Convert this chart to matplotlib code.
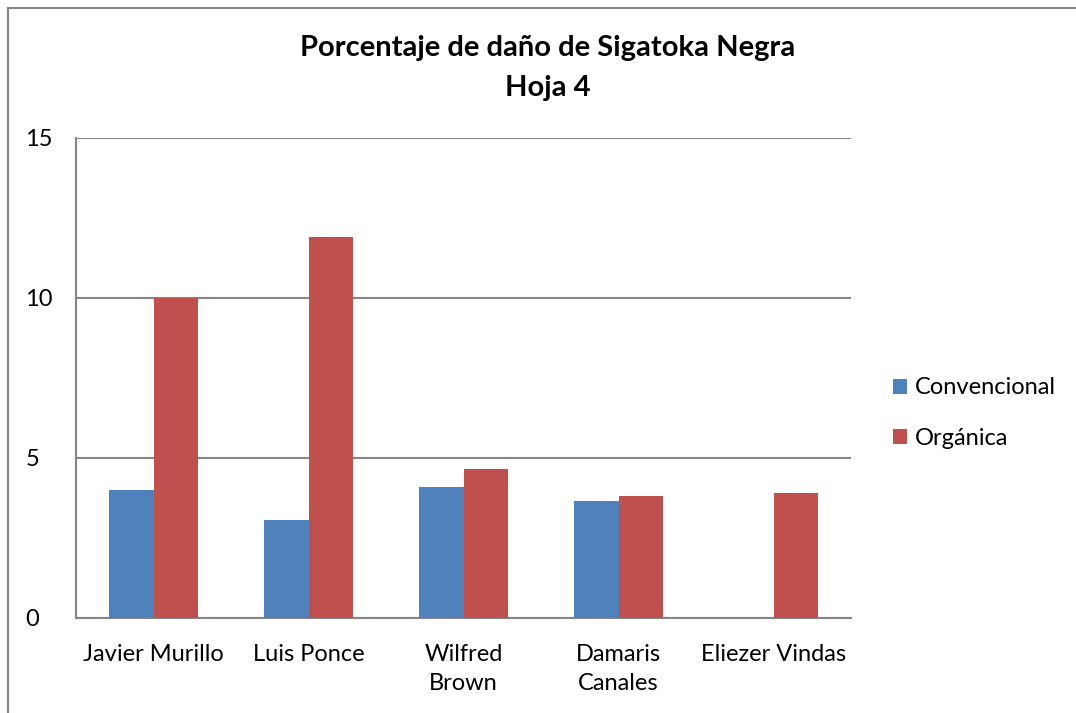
import numpy as np
import matplotlib.pyplot as plt
from matplotlib.lines import Line2D

categories = ['Javier Murillo', 'Luis Ponce', 'Wilfred\nBrown', 'Damaris\nCanales', 'Eliezer Vindas']
convencional = [4.0, 3.05, 4.07, 3.64, 0]
organica = [10.0, 11.9, 4.65, 3.8, 3.9]
yticks = [0, 5, 10, 15]

plt.rcParams['font.family'] = ['Lato', 'DejaVu Sans']

W, H = 1076, 713
fig = plt.figure(figsize=(W / 100, H / 100), dpi=100)

# marco del gráfico (sólo se ven el borde izquierdo y el superior)
fig.add_artist(Line2D([7.5 / W, 7.5 / W], [0, 1 - 7.5 / H], transform=fig.transFigure,
                      color='#868686', linewidth=1.5))
fig.add_artist(Line2D([7.5 / W, 1.05], [1 - 7.5 / H, 1 - 7.5 / H], transform=fig.transFigure,
                      color='#868686', linewidth=1.5))

ax = fig.add_axes([76 / W, (H - 617.7) / H, (851 - 76) / W, 480 / H])

x = np.arange(len(categories))
w = 0.284
ax.bar(x - w / 2, convencional, w, color='#4F81BD', label='Convencional', zorder=3)
ax.bar(x + w / 2, organica, w, color='#C0504D', label='Orgánica', zorder=3)

ax.set_xlim(-0.5, len(categories) - 0.5)
ax.set_ylim(0, 15)
ax.set_yticks(yticks)
ax.yaxis.grid(True, color='#868686', linewidth=1.5, zorder=0)
ax.set_xticks(x)
ax.set_xticklabels(categories, fontsize=17, linespacing=1.45)
ax.tick_params(axis='y', labelsize=17, length=0, pad=36.5)
ax.tick_params(axis='x', length=0, pad=19)
for s in ['top', 'right']:
    ax.spines[s].set_visible(False)
for s in ['left', 'bottom']:
    ax.spines[s].set_color('#868686')
    ax.spines[s].set_linewidth(1.5)
for lbl in ax.get_yticklabels():
    lbl.set_horizontalalignment('left')

ax.legend(loc='center left', bbox_to_anchor=(1.027, 0.426), frameon=False, fontsize=17,
          handlelength=0.6, handleheight=0.6, handletextpad=0.3, labelspacing=1.25)

fig.text(548 / W, 1 - 48 / H, 'Porcentaje de daño de Sigatoka Negra', ha='center', va='center',
         fontsize=21, fontweight='bold')
fig.text(548 / W, 1 - 88 / H, 'Hoja 4', ha='center', va='center', fontsize=21, fontweight='bold')

fig.savefig('out.png', dpi=100)
